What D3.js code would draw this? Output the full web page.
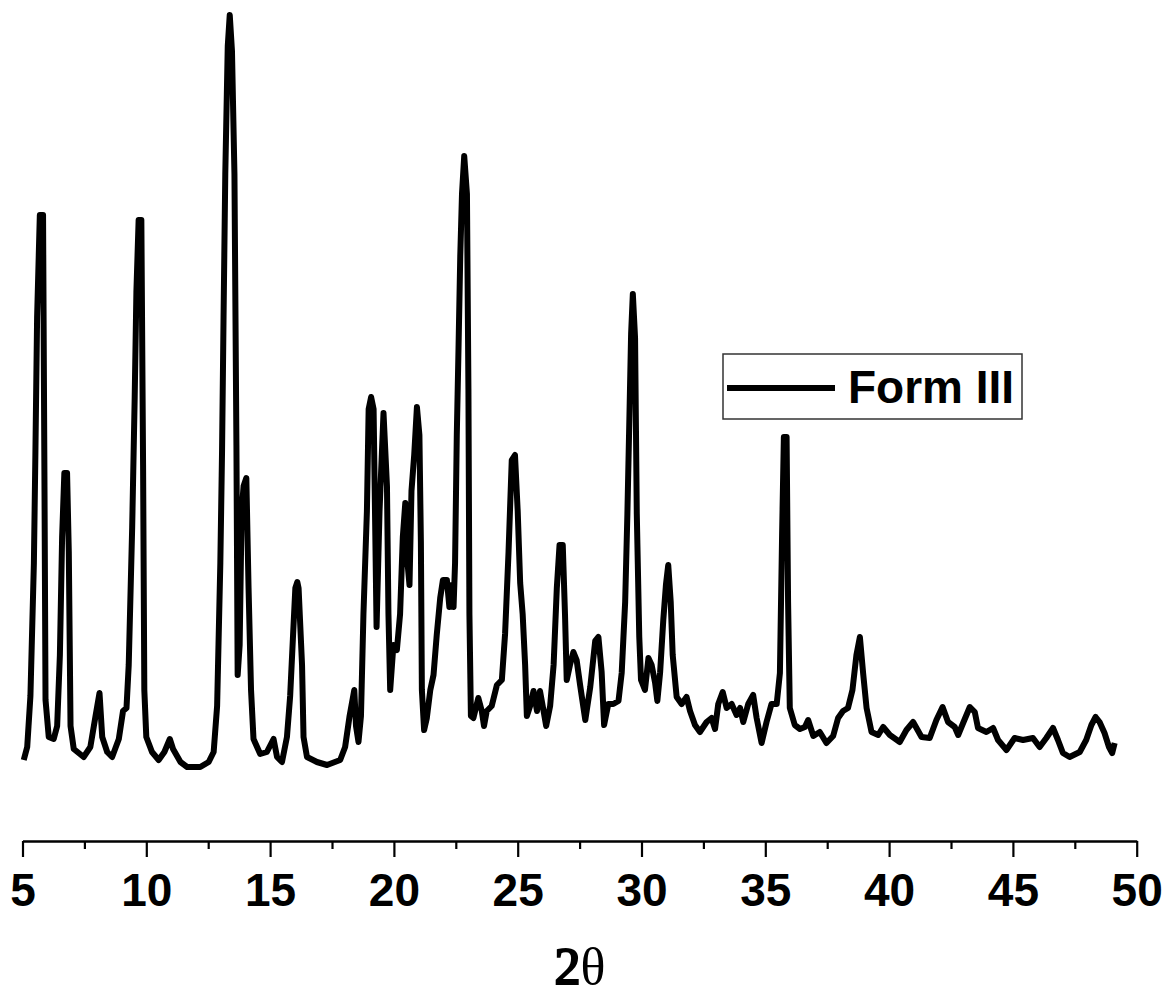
<!DOCTYPE html>
<html>
<head>
<meta charset="utf-8">
<script src="https://cdn.jsdelivr.net/npm/d3@7"></script>
<style>
  body { margin: 0; background: #fff; }
  svg { display: block; }
  .trace { fill: none; stroke: #000; stroke-width: 6; stroke-linejoin: round; }
  .axis path, .axis line { stroke: #000; stroke-width: 2.2; }
  .axis text { font-family: "Liberation Sans", Arial, sans-serif; font-weight: bold; font-size: 46px; fill: #000; }
</style>
</head>
<body>
<script>
// XRPD pattern, Form III
var width = 1166, height = 1001;

// 2theta (degrees)
var twoTheta = [5.05,5.19,5.32,5.46,5.52,5.59,5.70,5.83,5.89,5.93,6.06,6.26,6.40,6.51,6.60,6.69,6.80,6.87,6.94,7.07,
  7.47,7.74,7.95,8.11,8.22,8.42,8.62,8.89,9.06,9.20,9.29,9.43,9.53,9.60,9.69,9.80,9.87,9.92,10.00,10.23,
  10.50,10.73,10.95,11.08,11.38,11.65,12.18,12.52,12.72,12.86,12.99,13.06,13.12,13.19,13.29,13.37,13.46,13.56,13.64,13.69,
  13.77,13.85,13.93,14.04,14.13,14.23,14.33,14.60,14.87,15.14,15.28,15.48,15.68,15.81,15.92,16.02,16.10,16.15,16.29,16.35,
  16.49,16.89,17.30,17.83,18.03,18.21,18.40,18.47,18.57,18.67,18.77,18.91,18.98,19.08,19.18,19.30,19.42,19.58,19.72,19.78,
  19.85,19.98,20.12,20.25,20.36,20.46,20.55,20.63,20.71,20.82,20.93,21.03,21.09,21.13,21.22,21.33,21.47,21.60,21.73,21.87,
  21.98,22.14,22.24,22.34,22.41,22.47,22.54,22.61,22.68,22.75,22.84,22.95,23.01,23.05,23.11,23.21,23.41,23.55,23.64,23.75,
  23.95,24.16,24.36,24.49,24.63,24.76,24.89,25.00,25.10,25.20,25.30,25.37,25.50,25.64,25.78,25.90,26.01,26.15,26.31,26.45,
  26.58,26.69,26.82,26.91,26.98,27.11,27.25,27.38,27.52,27.73,27.93,28.13,28.26,28.39,28.49,28.66,28.86,29.07,29.20,29.34,
  29.43,29.51,29.58,29.65,29.74,29.81,29.91,29.98,30.14,30.28,30.41,30.55,30.64,30.75,30.88,30.99,31.08,31.18,31.26,31.42,
  31.62,31.82,31.96,32.16,32.36,32.63,32.83,32.97,33.10,33.28,33.44,33.64,33.84,33.98,34.11,34.31,34.51,34.65,34.85,35.05,
  35.25,35.46,35.59,35.68,35.75,35.86,35.92,35.99,36.19,36.40,36.60,36.73,36.94,37.20,37.47,37.74,37.94,38.14,38.34,38.52,
  38.68,38.82,38.95,39.09,39.29,39.56,39.76,40.03,40.43,40.70,40.97,41.31,41.64,41.91,42.16,42.38,42.65,42.79,42.99,43.26,
  43.46,43.59,43.93,44.20,44.40,44.74,45.07,45.41,45.81,46.08,46.35,46.62,46.82,47.02,47.29,47.70,47.96,48.17,48.34,48.50,
  48.70,48.88,49.01,49.11];

// intensity (arbitrary units)
var intensity = [30,43,94,227,335,473,575,575,294,90,53,51,64,135,253,317,317,238,64,41,
  33,43,74,97,53,38,33,51,79,82,125,263,391,498,570,570,325,100,53,38,
  30,38,51,41,28,23,23,28,38,84,227,340,473,616,744,775,739,616,345,115,
  145,279,304,312,202,100,51,36,38,51,33,28,53,94,151,202,208,202,125,53,
  33,28,25,30,43,74,100,64,48,74,176,279,381,393,381,163,279,377,304,176,
  100,145,140,176,253,287,227,205,299,335,383,355,248,100,60,72,100,115,155,192,
  210,210,183,205,183,227,355,442,534,596,634,596,401,176,74,72,92,79,64,79,
  84,105,110,156,238,330,335,279,207,176,125,74,84,99,79,99,84,64,84,125,
  202,245,245,176,110,125,138,130,105,70,103,149,153,118,65,86,86,89,117,188,
  276,371,456,496,452,276,153,110,100,132,125,107,89,117,170,206,225,188,135,93,
  86,93,79,65,58,68,72,61,86,98,82,86,75,82,68,86,95,72,47,68,
  86,86,117,258,353,353,188,82,65,61,63,70,54,58,47,54,72,79,82,100,
  135,153,117,82,58,55,63,55,48,60,68,53,52,70,83,68,63,55,67,83,
  78,62,58,62,50,40,52,50,52,43,52,62,50,37,33,38,50,65,73,68,
  57,43,37,47];

var xTicks = [5, 10, 15, 20, 25, 30, 35, 40, 45, 50];
var xMinor = [7.5, 12.5, 17.5, 22.5, 27.5, 32.5, 37.5, 42.5, 47.5];
var seriesName = "Form III";

var data = twoTheta.map(function(t, i) { return {t: t, v: intensity[i]}; });

var svg = d3.select("body").append("svg")
    .attr("width", width)
    .attr("height", height);

var xScale = d3.scaleLinear().domain([5, 50]).range([22.5, 1136.7]);
var yScale = d3.scaleLinear().domain([0, 790]).range([790, 0]);

var axisY = 841;

// minor ticks first, then major ticks with labels
svg.append("g")
    .attr("class", "axis")
    .attr("transform", "translate(0," + axisY + ")")
    .call(d3.axisBottom(xScale).tickValues(xMinor).tickSize(8).tickSizeOuter(0).tickFormat(""));

var xAxis = svg.append("g")
    .attr("class", "axis")
    .attr("transform", "translate(0," + axisY + ")")
    .call(d3.axisBottom(xScale).tickValues(xTicks).tickSize(16).tickSizeOuter(0).tickFormat(d3.format("d")));

xAxis.selectAll("text")
    .attr("y", 65)
    .attr("dy", 0);

// the pattern
var line = d3.line()
    .x(function(d) { return xScale(d.t); })
    .y(function(d) { return yScale(d.v); });

svg.append("path")
    .datum(data)
    .attr("class", "trace")
    .attr("d", line);

// legend
var legend = svg.append("g").attr("transform", "translate(723,354)");
legend.append("rect")
    .attr("width", 299)
    .attr("height", 65)
    .attr("fill", "#fff")
    .attr("stroke", "#333")
    .attr("stroke-width", 1.5);
legend.append("line")
    .attr("x1", 4).attr("x2", 112)
    .attr("y1", 34).attr("y2", 34)
    .attr("stroke", "#000")
    .attr("stroke-width", 6);
legend.append("text")
    .attr("x", 125)
    .attr("y", 49)
    .style("font-family", "'Liberation Sans', Arial, sans-serif")
    .style("font-weight", "bold")
    .style("font-size", "46px")
    .text(seriesName);

// axis title: bold 2, regular theta
var title = svg.append("text")
    .attr("x", 580)
    .attr("y", 984)
    .attr("text-anchor", "middle")
    .attr("font-family", "'Liberation Serif', 'Times New Roman', serif")
    .attr("font-size", "52px");
title.append("tspan")
    .attr("stroke", "#000")
    .attr("stroke-width", 2.2)
    .text("2");
title.append("tspan").text("θ");
</script>
</body>
</html>
